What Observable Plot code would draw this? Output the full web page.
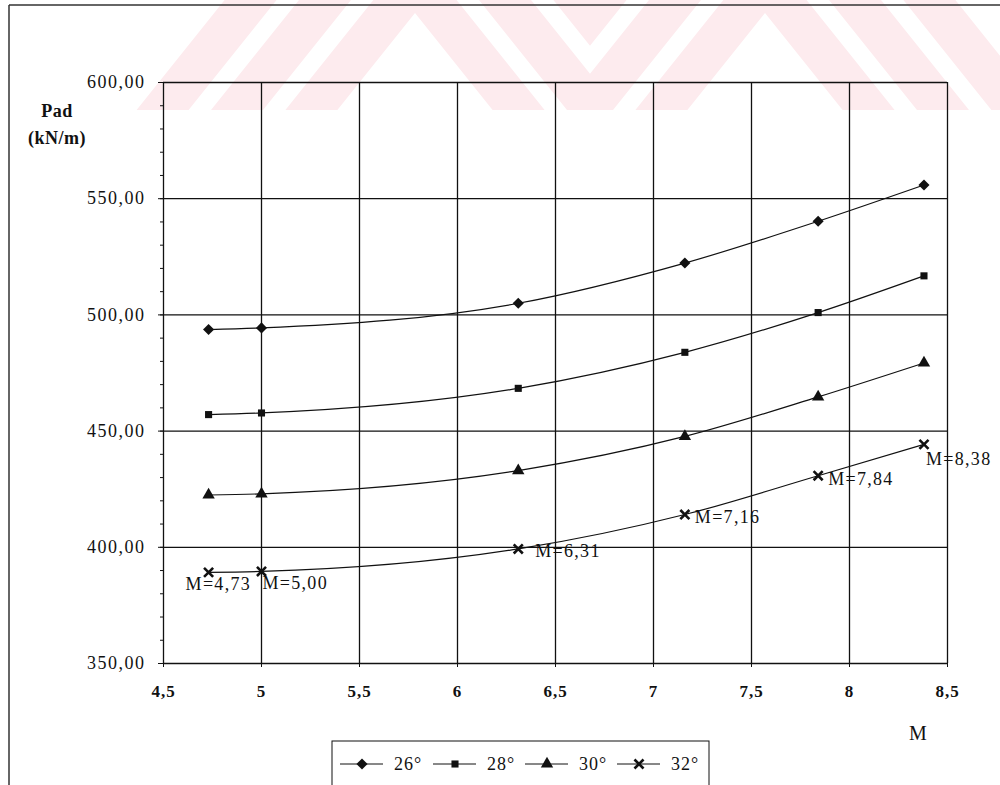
<!DOCTYPE html>
<html><head><meta charset="utf-8">
<script src="https://cdn.jsdelivr.net/npm/d3@7"></script>
<script src="https://cdn.jsdelivr.net/npm/@observablehq/plot@0.6"></script>
<style>
html,body{margin:0;padding:0;background:#fff;}
#chart{width:1000px;height:785px;overflow:hidden;}
#chart svg text{font-family:'Liberation Serif','Times New Roman',serif;}
</style></head><body><div id="chart"></div>
<script>
// ---- data ----
const M = [4.73, 5.00, 6.31, 7.16, 7.84, 8.38];
const pad26 = [493.7, 494.4, 505.0, 522.3, 540.3, 555.9];
const pad28 = [457.1, 457.8, 468.4, 483.9, 501.0, 516.8];
const pad30 = [422.5, 423.0, 433.0, 447.7, 464.7, 479.3];
const pad32 = [389.2, 389.6, 399.3, 414.1, 430.8, 444.3];
const seriesNames = ["26°", "28°", "30°", "32°"];
const pointLabels = ["M=4,73", "M=5,00", "M=6,31", "M=7,16", "M=7,84", "M=8,38"];
const xTicks = [4.5, 5, 5.5, 6, 6.5, 7, 7.5, 8, 8.5];
const yTicks = [350, 400, 450, 500, 550, 600];
const yLabelLines = ["Pad", "(kN/m)"];
const xLabel = "M";

// ---- styling ----
const seriesValues = [pad26, pad28, pad30, pad32];
const symbols = ["diamond2", "square", "triangle", "times"];
const symbolR = [5.0, 4.0, 4.6, 4.2];
const labelOffsets = [[-23, 12], [1, 12], [17, 2], [10, 3], [10, 4], [2, 15]];
const INK = "#111";

const rows = seriesValues.flatMap((vals, s) => vals.map((v, i) => ({M: M[i], P: v, s: seriesNames[s], i})));
const fmtX = d => String(d).replace(".", ",");
const fmtY = d => d.toFixed(2).replace(".", ",");

const dotOpts = s => symbols[s] === "times"
  ? {stroke: INK, strokeWidth: 2.6}
  : {fill: INK};

const marks = [
  Plot.ruleX(xTicks, {stroke: INK, strokeWidth: 1.3}),
  Plot.ruleY(yTicks, {stroke: INK, strokeWidth: 1.3}),
  Plot.axisY(d3.range(350, 601, 10), {tickSize: 3, tickFormat: () => "", label: null}),
  Plot.axisY(yTicks, {tickSize: 5, tickPadding: 13, tickFormat: fmtY, fontSize: 18, label: null}),
  Plot.axisX(xTicks, {tickSize: 4, tickPadding: 17, tickFormat: fmtX, fontSize: 17, fontWeight: "bold", label: null}),
  Plot.line(rows, {x: "M", y: "P", z: "s", curve: "monotone-x", stroke: INK, strokeWidth: 1.2}),
  ...seriesNames.map((name, s) => Plot.dot(rows.filter(r => r.s === name),
    {x: "M", y: "P", symbol: symbols[s], r: symbolR[s], ...dotOpts(s)})),
  ...pointLabels.map((t, i) => Plot.text(rows.filter(r => r.s === "32°" && r.i === i),
    {x: "M", y: "P", text: () => t, textAnchor: "start", dx: labelOffsets[i][0], dy: labelOffsets[i][1], fontSize: 18, fill: INK}))
];

const svgEl = Plot.plot({
  width: 1000, height: 785,
  marginLeft: 163, marginRight: 53, marginTop: 82, marginBottom: 122,
  x: {domain: [4.5, 8.5], label: null},
  y: {domain: [350, 600], label: null},
  style: {fontFamily: "'Liberation Serif', serif", fontSize: "18px", background: "white", color: INK},
  marks
});
document.getElementById("chart").appendChild(svgEl);

const svg = d3.select(svgEl);
svg.selectAll('g[aria-label="y-axis tick label"] text').style("letter-spacing", "1.5px");
svg.selectAll('g[aria-label="x-axis tick label"] text').style("letter-spacing", "1px");
svg.selectAll('g[aria-label="text"] text').style("letter-spacing", "1.3px");

// faint watermark behind everything
const defs = svg.insert("defs", ":first-child");
defs.append("clipPath").attr("id", "wmL").append("rect").attr("x", 0).attr("y", 0).attr("width", 590).attr("height", 110);
defs.append("clipPath").attr("id", "wmR").append("rect").attr("x", 590).attr("y", 0).attr("width", 410).attr("height", 110);
const wmL = svg.insert("g", "defs + *").attr("fill", "#fdebee").attr("clip-path", "url(#wmL)");
const wmR = svg.insert("g", "defs + *").attr("fill", "#fdebee").attr("clip-path", "url(#wmR)");
const H = 110, k = 0.8, t = 52;
function chevron(g, ax, ay) {
  const L = k * (H - ay);
  const pts = [[ax - L, H], [ax, ay], [ax + L, H], [ax + L - t, H], [ax, ay + t / k], [ax - L + t, H]];
  g.append("polygon").attr("points", pts.map(p => p.join(",")).join(" "));
}
[-52, -145, -238].forEach(b => chevron(wmL, 415, b));
[-52, -145, -238].forEach(b => chevron(wmR, 765, b));

// page border lines
svg.append("line").attr("x1", 9).attr("y1", 5).attr("x2", 1000).attr("y2", 5).attr("stroke", "#333").attr("stroke-width", 1.5);
svg.append("line").attr("x1", 9).attr("y1", 5).attr("x2", 9).attr("y2", 785).attr("stroke", "#333").attr("stroke-width", 1.5);

// axis titles
yLabelLines.forEach((txt, j) => {
  svg.append("text").attr("x", 57).attr("y", 117 + j * 27).attr("text-anchor", "middle")
    .style("font-weight", "bold").style("font-size", "18px").style("letter-spacing", "0.5px").attr("fill", INK).text(txt);
});
svg.append("text").attr("x", 918).attr("y", 740).attr("text-anchor", "middle")
  .style("font-size", "20px").attr("fill", INK).text(xLabel);

// legend
const lg = svg.append("g");
lg.append("rect").attr("x", 332).attr("y", 741).attr("width", 377).attr("height", 80)
  .attr("fill", "white").attr("stroke", INK).attr("stroke-width", 1);
const legX = [340, 433, 525, 617];
const d3sym = {diamond2: d3.symbolDiamond2, square: d3.symbolSquare, triangle: d3.symbolTriangle, times: d3.symbolTimes};
seriesNames.forEach((name, s) => {
  const x0 = legX[s], cy = 764, mx = x0 + 22;
  lg.append("line").attr("x1", x0).attr("x2", x0 + 43).attr("y1", cy).attr("y2", cy).attr("stroke", INK).attr("stroke-width", 1);
  const p = d3.symbol(d3sym[symbols[s]], Math.PI * symbolR[s] * symbolR[s])();
  const el = lg.append("path").attr("d", p).attr("transform", `translate(${mx},${cy})`);
  if (symbols[s] === "times") el.attr("fill", "none").attr("stroke", INK).attr("stroke-width", 2.6);
  else el.attr("fill", INK);
  lg.append("text").attr("x", x0 + 54).attr("y", cy).attr("dy", "0.35em").attr("text-anchor", "start")
    .style("font-size", "18px").style("letter-spacing", "1px").attr("fill", INK).text(name);
});
</script></body></html>
